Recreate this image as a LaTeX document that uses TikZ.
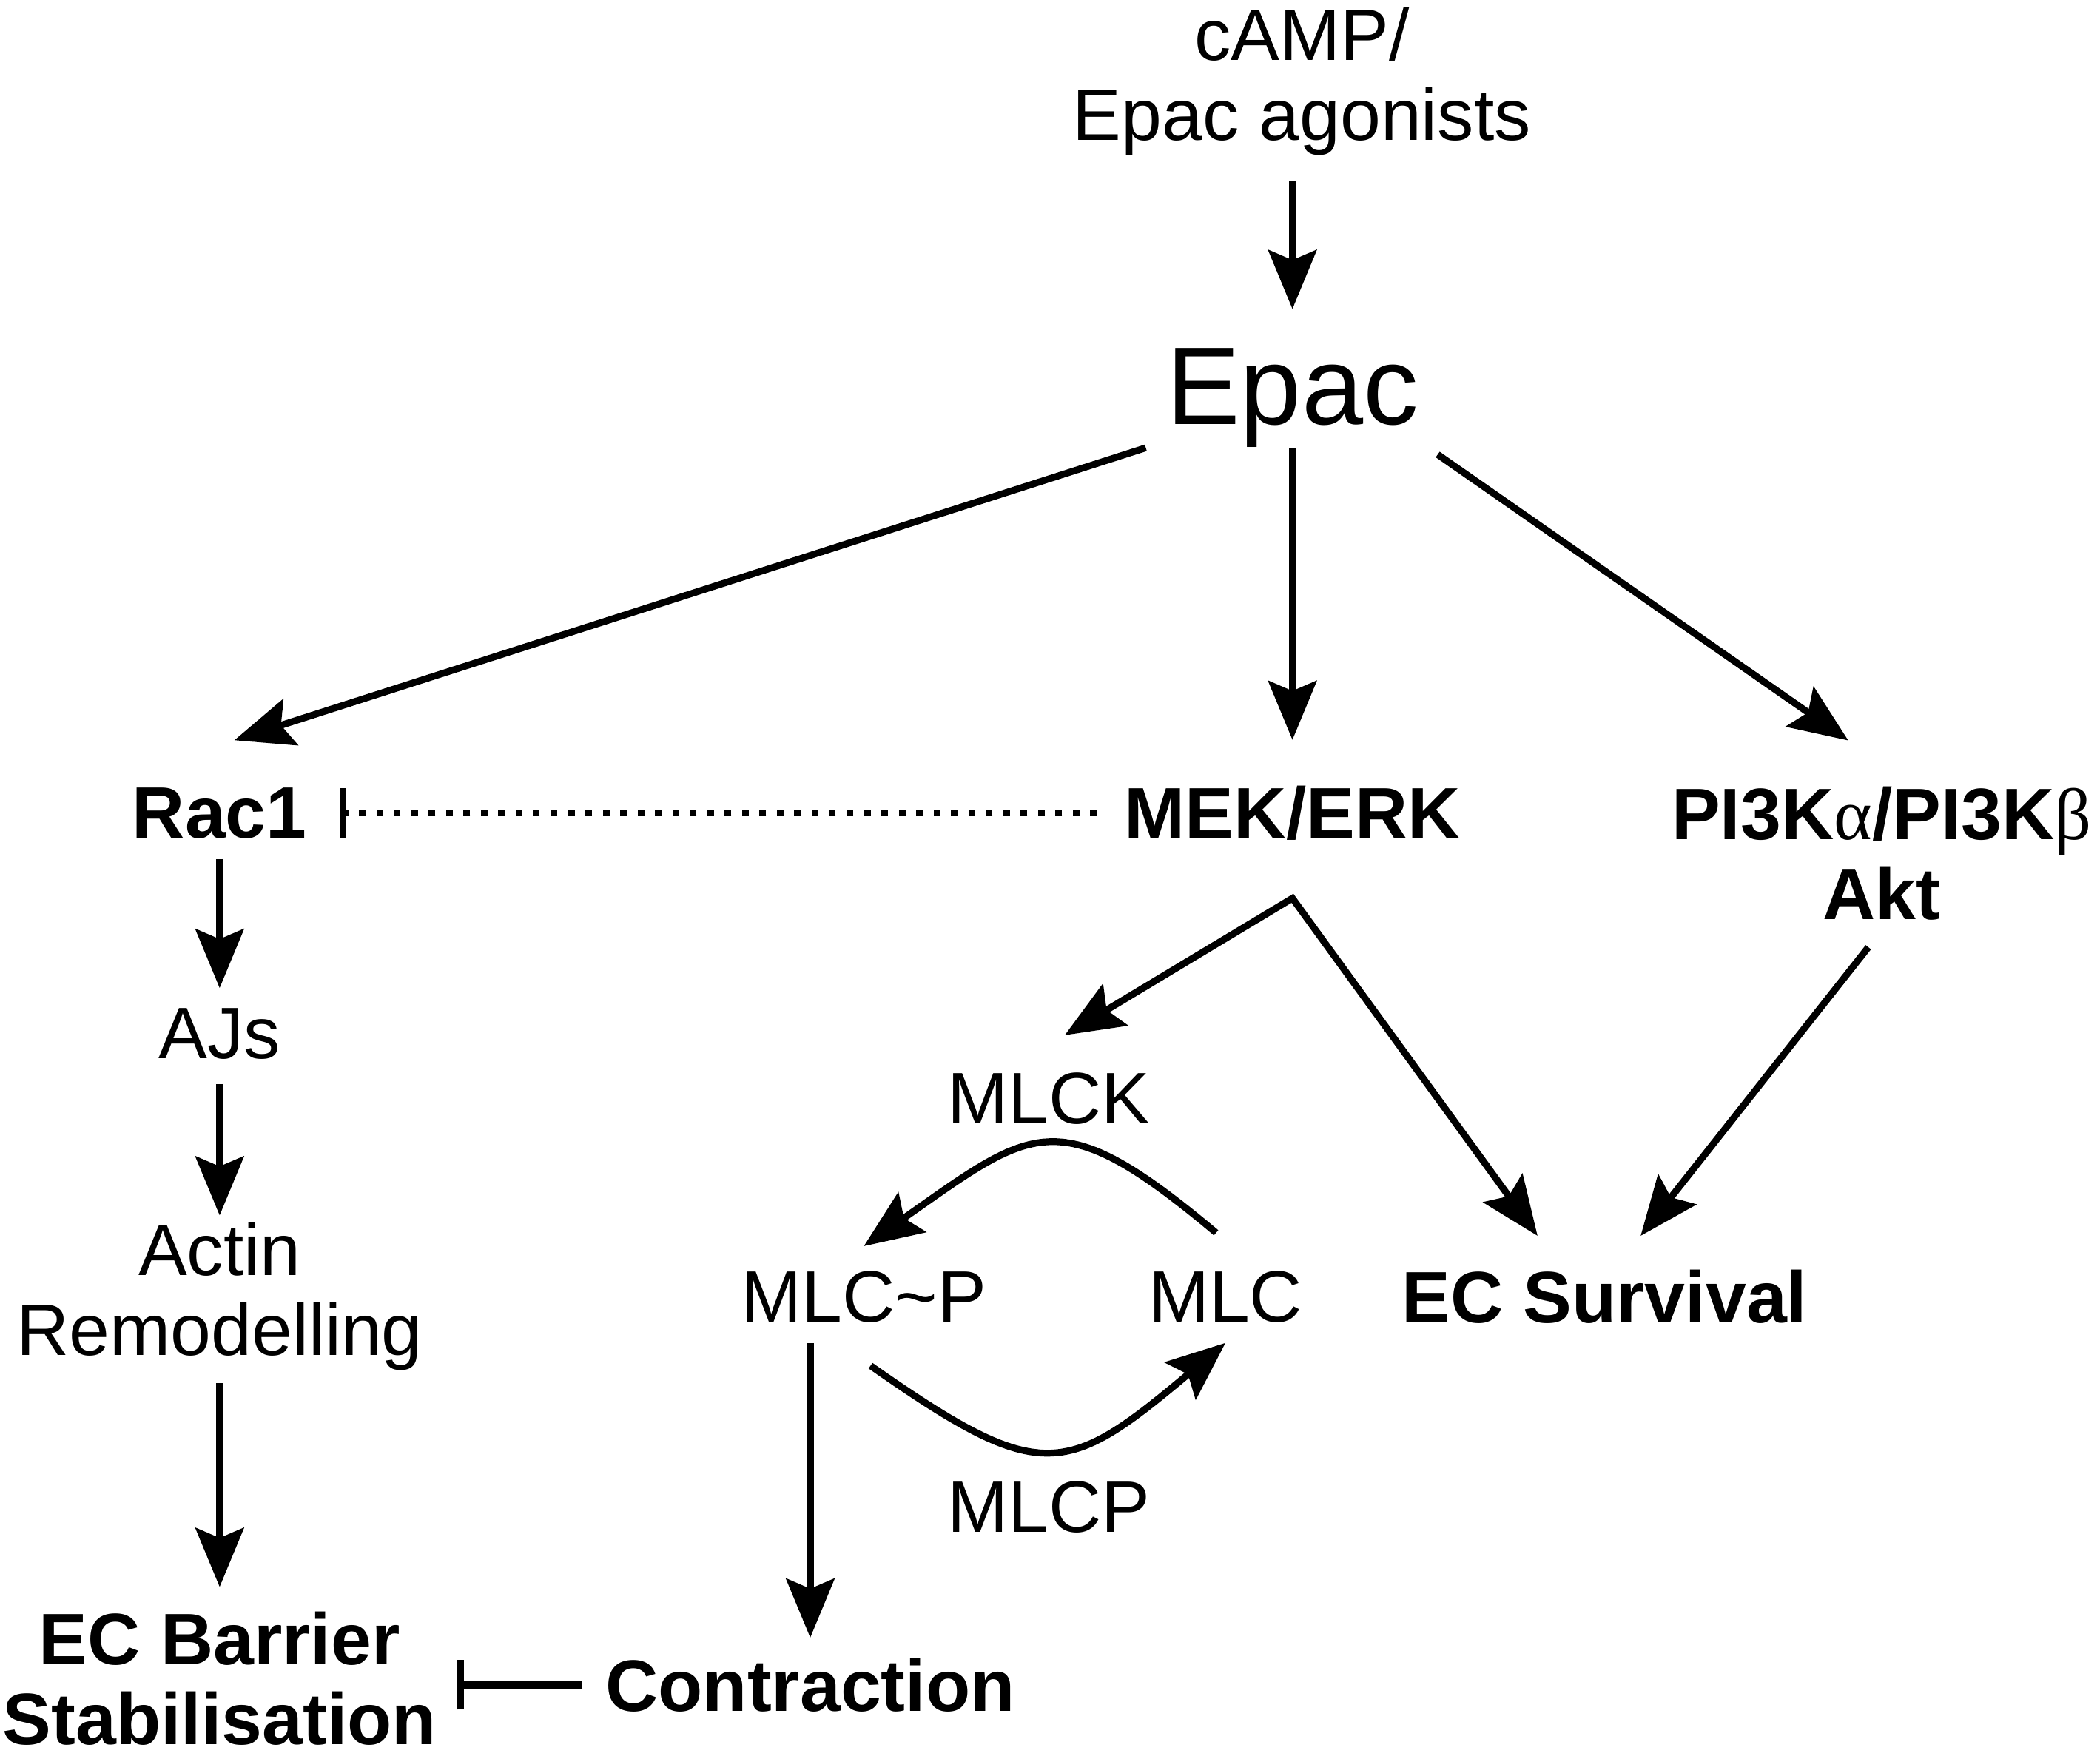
\documentclass[tikz,border=0pt]{standalone}
\usepackage{fontspec}
\setmainfont{Liberation Sans}
\newfontfamily\greekfont{Liberation Serif}
\usetikzlibrary{positioning,arrows.meta}

\begin{document}
\begin{tikzpicture}[
plainnode/.style={inner sep=0pt, align=center, font=\fontsize{31}{34}\selectfont},
boldnode/.style={inner sep=0pt, align=center, font=\fontsize{31}{34}\selectfont\bfseries},
bignode/.style={inner sep=0pt, font=\fontsize{47}{56}\selectfont},
arrowline/.style={-{Stealth[length=0.88cm,width=0.72cm,inset=0.15cm]}, line width=2.9pt},
inhibitline/.style={-{Bar[width=0.74cm,line width=2.9pt]}, line width=2.9pt},
on grid
]
\useasboundingbox (0,0) rectangle (31.36,-26.26);
%Nodes
\node[bignode]   (epac)        at (19.30,-5.94) {Epac};
\node[plainnode] (camp)        [above=4.72cm of epac,xshift=0.14cm] {cAMP/\\Epac agonists};
\node[boldnode]  (mek)         [below=6.2cm of epac] {MEK/ERK};
\node[boldnode]  (rac)         [left=16.02cm of mek] {Rac1};
\node[boldnode]  (pi3k)        [below right=0.6cm and 8.8cm of mek] {PI3K{\greekfont\mdseries α}/PI3K{\greekfont\mdseries β}\\Akt};
\node[plainnode] (ajs)         [below=3.3cm of rac] {AJs};
\node[plainnode] (actin)       [below=3.92cm of ajs] {Actin\\Remodelling};
\node[boldnode]  (barrier)     [below=5.7cm of actin] {EC Barrier\\Stabilisation};
\node[boldnode]  (contraction) [right=8.82cm of barrier,yshift=-0.1cm] {Contraction};
\node[plainnode] (mlck)        [below left=4.26cm and 3.64cm of mek] {MLCK};
\node[plainnode] (mlcpho)      [below left=2.96cm and 2.76cm of mlck] {MLC\textasciitilde P};
\node[plainnode] (mlc)         [right=5.4cm of mlcpho] {MLC};
\node[boldnode]  (survival)    [right=5.66cm of mlc] {EC Survival};
\node[plainnode] (mlcp)        [below=6.1cm of mlck] {MLCP};
\coordinate[below=0.86cm of mek.south] (fork);
%Lines
\draw[arrowline, shorten <=0.38cm, shorten >=0.58cm] (epac.north |- camp.south) -- (epac.north);
\draw[arrowline] ([xshift=-0.3cm]epac.south west) -- ([xshift=0.22cm,yshift=0.7cm]rac.north);
\draw[arrowline, shorten >=0.68cm] (epac.south) -- (mek.north);
\draw[arrowline] ([xshift=0.28cm,yshift=-0.1cm]epac.south east) -- ([xshift=-0.5cm,yshift=0.68cm]pi3k.north);
\draw[inhibitline, dash pattern=on 0.1cm off 0.16cm, shorten <=0.4cm, shorten >=0.48cm] (mek.west) -- (mek.west -| rac.east);
\draw[arrowline, shorten <=0.3cm, shorten >=0.3cm] (rac) -- (ajs);
\draw[arrowline, shorten <=0.36cm, shorten >=0.1cm] (ajs) -- (actin);
\draw[arrowline, shorten <=0.18cm, shorten >=0.36cm] (actin) -- (barrier);
\draw[inhibitline, line width=3.3pt, shorten <=0.34cm, shorten >=0.3cm] (contraction.west) -- (contraction.west -| barrier.east);
\draw[{Stealth[length=0.88cm,width=0.72cm,inset=0.15cm]}-{Stealth[length=0.88cm,width=0.72cm,inset=0.15cm]}, line width=2.9pt, line join=miter]
  ([xshift=0.24cm,yshift=0.55cm]mlck.north) -- (fork) -- ([xshift=-1cm,yshift=0.5cm]survival.north);
\draw[arrowline] ([xshift=-0.2cm,yshift=-0.4cm]pi3k.south) -- ([xshift=0.54cm,yshift=0.5cm]survival.north);
\draw[arrowline] ([xshift=-0.14cm,yshift=0.56cm]mlc.north) to[out=140,in=35,looseness=1.5] ([yshift=0.36cm]mlcpho.north);
\draw[arrowline] ([xshift=0.1cm,yshift=-0.64cm]mlcpho.south) to[out=-35,in=-140,looseness=1.5] ([yshift=-0.3cm]mlc.south);
\draw[arrowline, shorten <=0.3cm, shorten >=0.3cm] (contraction.north |- mlcpho.south) -- (contraction.north);
\end{tikzpicture}
\end{document}
